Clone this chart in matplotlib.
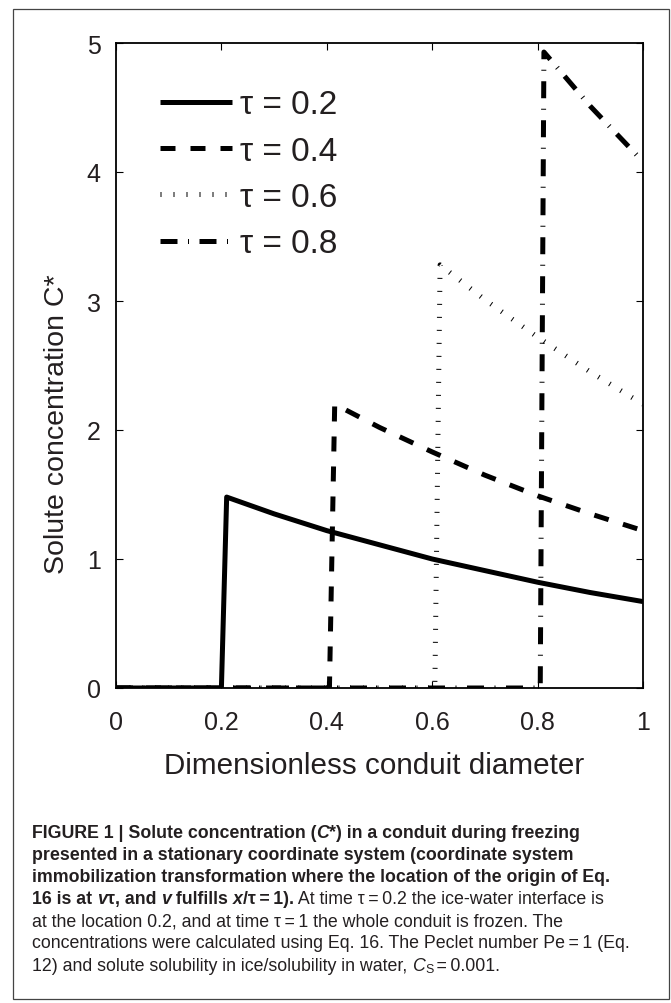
import matplotlib
matplotlib.use('Agg')
import matplotlib.pyplot as plt
from matplotlib.patches import Rectangle

plt.rcParams['font.family'] = ['Liberation Sans', 'DejaVu Sans']

# concentration profiles (x = dimensionless diameter)
x_02 = [0, 0.20, 0.21, 0.3, 0.4, 0.5, 0.6, 0.7, 0.8, 0.9, 1.0]
c_02 = [0, 0, 1.48, 1.35, 1.22, 1.11, 1.00, 0.91, 0.82, 0.74, 0.67]

x_04 = [0, 0.405, 0.415, 0.5, 0.6, 0.7, 0.8, 0.9, 1.0]
c_04 = [0, 0, 2.20, 2.02, 1.83, 1.65, 1.49, 1.35, 1.22]

x_06 = [0, 0.605, 0.615, 0.7, 0.8, 0.9, 1.0]
c_06 = [0, 0, 3.28, 3.01, 2.72, 2.45, 2.20]

x_08 = [0, 0.805, 0.812, 0.9, 1.0]
c_08 = [0, 0, 4.93, 4.51, 4.08]

labels = ['τ = 0.2', 'τ = 0.4', 'τ = 0.6', 'τ = 0.8']
xticks = [0, 0.2, 0.4, 0.6, 0.8, 1]
xticklabels = ['0', '0.2', '0.4', '0.6', '0.8', '1']
yticks = [0, 1, 2, 3, 4, 5]

txtcol = '#231f20'
ts = '\u2009'  # thin space used round "=" in the caption

fig = plt.figure(figsize=(6.71, 10.04), dpi=100)
ax = fig.add_axes([116/671, 1 - 689/1004, 527/671, 645/1004])

lw = 3.6
ax.plot(x_02, c_02, color='k', lw=lw, label=labels[0], solid_capstyle='butt')
ax.plot(x_04, c_04, color='k', lw=lw, dashes=(3, 3), label=labels[1], dash_capstyle='butt')
ax.plot(x_06, c_06, color='k', lw=lw, dashes=(0.2, 2.4), label=labels[2], dash_capstyle='butt')
ax.plot(x_08, c_08, color='k', lw=lw, dashes=(3.4, 2.1, 0.2, 2.1), label=labels[3], dash_capstyle='butt')

ax.set_xlim(0, 1)
ax.set_ylim(0, 5)
ax.set_xticks(xticks)
ax.set_xticklabels(xticklabels)
ax.set_yticks(yticks)
ax.tick_params(direction='in', length=5, width=0.8, top=True, right=True,
               labelsize=18, labelcolor=txtcol)
ax.tick_params(axis='x', pad=16)
ax.tick_params(axis='y', pad=11)
for s in ax.spines.values():
    s.set_linewidth(1.3)

ax.set_xlabel('Dimensionless conduit diameter', fontsize=21.3, color=txtcol)
ax.xaxis.set_label_coords(0.489, -0.0975)
ax.set_ylabel('Solute concentration C*', fontsize=20.5, color=txtcol)
ax.yaxis.set_label_coords(-0.088, 0.41)

leg = ax.legend(loc='upper left', bbox_to_anchor=(0.084, 0.928), frameon=False,
                fontsize=24, handlelength=2.15, handletextpad=0.25,
                labelspacing=0.46, borderpad=0, borderaxespad=0)
for t in leg.get_texts():
    t.set_color(txtcol)

# outer frame
fig.patches.append(Rectangle((13/671, 1 - 1000/1004), 656/671, 990/1004,
                             transform=fig.transFigure, fill=False,
                             edgecolor='#444444', lw=0.9))

# caption, drawn run by run so bold / italic parts sit on one line
cap_lines = [
    [("FIGURE 1 | Solute concentration (", 'b'), ("C", 'bi'), ("*", 'b'),
     (") in a conduit during freezing", 'b')],
    [("presented in a stationary coordinate system (coordinate system", 'b')],
    [("immobilization transformation where the location of the origin of Eq.", 'b')],
    [("16 is at ", 'b'), ("v", 'bi'), ("τ, and ", 'b'), ("v", 'bi'), (" fulfills ", 'b'),
     ("x", 'bi'), ("/τ" + ts + "=" + ts + "1).", 'b'),
     (" At time τ" + ts + "=" + ts + "0.2 the ice-water interface is", 'r')],
    [("at the location 0.2, and at time τ" + ts + "=" + ts + "1 the whole conduit is frozen. The", 'r')],
    [("concentrations were calculated using Eq. 16. The Peclet number Pe" + ts + "=" + ts + "1 (Eq.", 'r')],
    [("12) and solute solubility in ice/solubility in water, ", 'r'), ("C", 'i'),
     ("S", 's'), (ts + "=" + ts + "0.001.", 'r')],
]

renderer = fig.canvas.get_renderer()
cap_size = 12.8
y0 = 833
for i, line in enumerate(cap_lines):
    xpx = 32
    ypx = y0 + i * 22.2
    for txt, st in line:
        kw = dict(fontsize=cap_size, color=txtcol, va='center', ha='left')
        dy = 0
        if 'b' in st:
            kw['fontweight'] = 'bold'
        if 'i' in st:
            kw['fontstyle'] = 'italic'
        if st == 's':
            kw['fontsize'] = cap_size * 0.7
            dy = 4
        t = fig.text(xpx / 671, 1 - (ypx + dy) / 1004, txt, **kw)
        xpx += t.get_window_extent(renderer).width

fig.savefig('out.png', dpi=100)
